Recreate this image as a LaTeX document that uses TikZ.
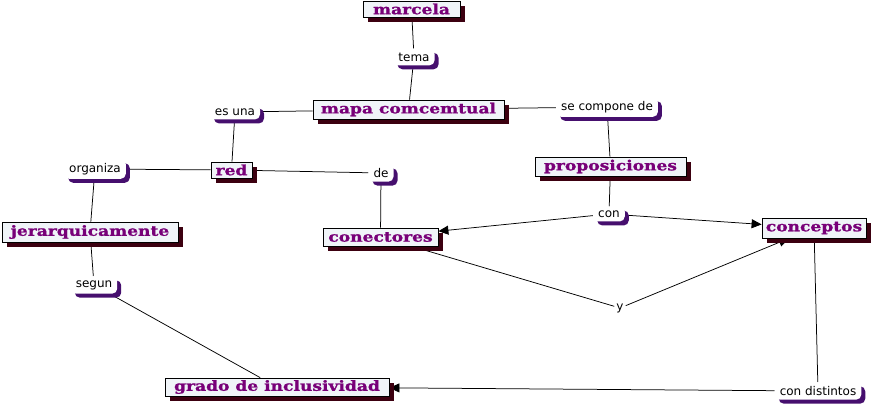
\documentclass[tikz,border=0pt]{standalone}
\usepackage{fontspec}
\usetikzlibrary{arrows.meta,shadows,backgrounds}
\newfontfamily\cfont[FakeStretch=1.22, BoldFeatures={FakeBold=1.2}]{DejaVu Serif}
\newfontfamily\lfont{DejaVu Sans}
\definecolor{cfill}{RGB}{240,244,248}
\definecolor{ctext}{RGB}{120,0,120}
\definecolor{cshadow}{RGB}{60,0,16}
\definecolor{lshadow}{RGB}{70,15,110}
\tikzset{
  concept/.style={draw=black, line width=0.8pt, fill=cfill, text=ctext,
    font=\cfont\bfseries\fontsize{14}{14}\selectfont, inner sep=0pt,
    drop shadow={shadow xshift=5pt, shadow yshift=-5pt, fill=cshadow, opacity=1}},
  linkp/.style={fill=white, rounded corners=5pt, text=black,
    font=\lfont\fontsize{12}{12}\selectfont, inner xsep=5pt, inner ysep=4pt,
    drop shadow={shadow xshift=4pt, shadow yshift=-4pt, fill=lshadow, opacity=1}},
  plainp/.style={text=black, font=\lfont\fontsize{12}{12}\selectfont, inner sep=2pt},
  conn/.style={draw=black, line width=0.75pt},
  arr/.style={conn, -{Triangle[length=10pt,width=9pt]}}
}
\begin{document}
\begin{tikzpicture}[x=1pt,y=-1pt]
\useasboundingbox (0,0) rectangle (874,407);
% concepts
\node[concept, minimum width=97pt, minimum height=16pt] (marcela) at (411.5,9) {marcela};
\node[concept, minimum width=191pt, minimum height=19pt] (mapa) at (408.5,109.5) {mapa comcemtual};
\node[concept, minimum width=41pt, minimum height=16pt] (red) at (231.5,170) {red};
\node[concept, minimum width=151pt, minimum height=19pt] (prop) at (610.5,166.5) {proposiciones};
\node[concept, minimum width=176pt, minimum height=20pt] (jer) at (90,232) {jerarquicamente};
\node[concept, minimum width=115pt, minimum height=18pt] (conect) at (380.5,237) {conectores};
\node[concept, minimum width=104pt, minimum height=20pt] (concep) at (814,228) {conceptos};
\node[concept, minimum width=224pt, minimum height=18pt] (grado) at (277,387) {grado de inclusividad};
% linking phrases
\node[linkp] (tema) at (414,57) {tema};
\node[linkp] (esuna) at (235,112) {es una};
\node[linkp] (secomp) at (607,107) {se compone de};
\node[linkp] (organiza) at (95,169) {organiza};
\node[linkp] (de) at (381,173) {de};
\node[linkp] (con) at (609,214) {con};
\node[linkp] (segun) at (94,285) {segun};
\node[plainp] (y) at (620,308) {y};
\node[linkp] (condist) at (818,391) {con distintos};
% connectors
\begin{scope}[on background layer]
\draw[conn] (marcela) -- (tema);
\draw[conn] (tema) -- (mapa);
\draw[conn] (mapa) -- (esuna);
\draw[conn] (mapa) -- (secomp);
\draw[conn] (esuna) -- (red);
\draw[conn] (secomp) -- (prop);
\draw[conn] (red) -- (organiza);
\draw[conn] (red) -- (de);
\draw[conn] (organiza) -- (jer);
\draw[conn] (de) -- (conect);
\draw[conn] (prop) -- (con);
\draw[arr] (con) -- (conect);
\draw[arr] (con) -- (concep);
\draw[conn] (jer) -- (segun);
\draw[conn] (segun) -- (grado);
\draw[conn] (conect) -- (y);
\draw[arr] (y) -- (concep);
\draw[conn] (concep) -- (condist);
\draw[arr] (condist) -- (grado);
\end{scope}
\end{tikzpicture}
\end{document}
